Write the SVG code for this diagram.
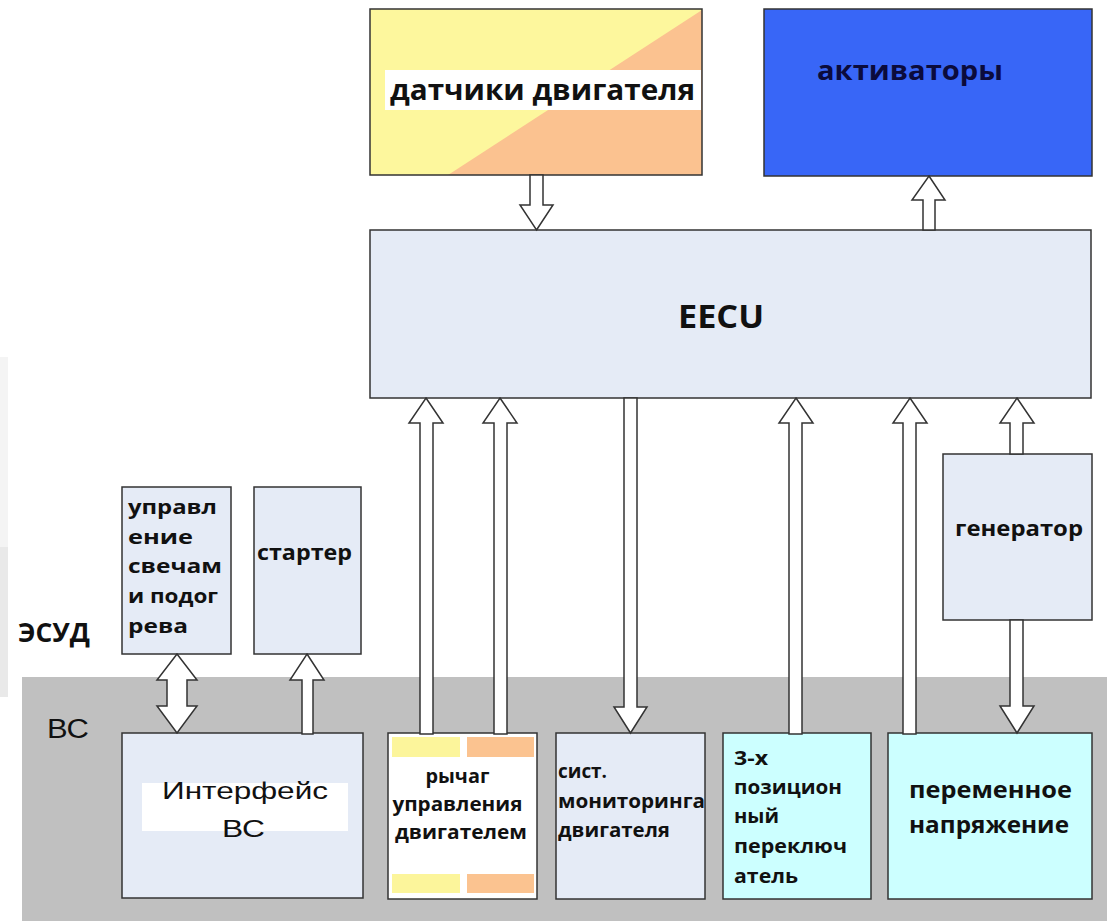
<svg xmlns="http://www.w3.org/2000/svg" width="1107" height="921" viewBox="0 0 1107 921">
<defs>
<style>
.box{stroke:#333;stroke-width:1.5}
.lb{fill:#e5ebf6}
.cy{fill:#ccffff}
.b{font-family:"Open Sans","DejaVu Sans",sans-serif;font-weight:bold;fill:#111}
.r{font-family:"Liberation Sans",Arial,sans-serif;fill:#111}
.arr{fill:#fff;stroke:#333;stroke-width:1.5;stroke-linejoin:miter}
</style>
</defs>
<rect width="1107" height="921" fill="#fff"/>
<rect x="0" y="357" width="8" height="190" fill="#f4f4f4"/>
<rect x="0" y="547" width="8" height="150" fill="#e9e9e9"/>
<rect id="bc-band" x="22" y="677" width="1085" height="244" fill="#c0c0c0"/>

<g id="sensors">
<rect x="370" y="9" width="332" height="166" fill="#fdf79d"/>
<polygon points="448,175 702,10 702,175" fill="#fbc290"/>
<rect x="370" y="9" width="332" height="166" fill="none" class="box"/>
<rect x="385" y="70" width="316" height="40" fill="#fff"/>
<text class="b" x="390" y="100" font-size="28" textLength="305" lengthAdjust="spacingAndGlyphs">датчики двигателя</text>
</g>

<g id="activators">
<rect class="box" x="764" y="9" width="328" height="167" fill="#3866f7"/>
<text class="b" x="817" y="80" font-size="26" textLength="186" lengthAdjust="spacingAndGlyphs" style="fill:#0b0b3c">активаторы</text>
</g>

<g id="eecu">
<rect class="box lb" x="370" y="230" width="721" height="168"/>
<text class="b" x="678" y="328" font-size="33" textLength="86" lengthAdjust="spacingAndGlyphs">EECU</text>
</g>

<g id="generator">
<rect class="box lb" x="943" y="454" width="149" height="166"/>
<text class="b" x="955" y="536" font-size="22" textLength="128" lengthAdjust="spacingAndGlyphs">генератор</text>
</g>

<g id="glow">
<rect class="box lb" x="122" y="487" width="109" height="167"/>
<text class="b" font-size="20">
<tspan x="128" y="514" textLength="89" lengthAdjust="spacingAndGlyphs">управл</tspan>
<tspan x="128" y="544" textLength="65" lengthAdjust="spacingAndGlyphs">ение</tspan>
<tspan x="128" y="573" textLength="94" lengthAdjust="spacingAndGlyphs">свечам</tspan>
<tspan x="128" y="603" textLength="90" lengthAdjust="spacingAndGlyphs">и подог</tspan>
<tspan x="128" y="633" textLength="60" lengthAdjust="spacingAndGlyphs">рева</tspan>
</text>
</g>

<g id="starter">
<rect class="box lb" x="254" y="487" width="107" height="167"/>
<text class="b" x="257" y="560" font-size="21" textLength="95" lengthAdjust="spacingAndGlyphs">стартер</text>
</g>

<g id="label-esud">
<text class="b" x="18" y="642" font-size="26" textLength="72" lengthAdjust="spacingAndGlyphs">ЭСУД</text>
</g>

<g id="label-bc">
<text class="r" x="47" y="738" font-size="27" textLength="42" lengthAdjust="spacingAndGlyphs">ВС</text>
</g>

<g id="interface">
<rect class="box lb" x="122" y="733" width="241" height="165"/>
<rect x="142" y="783" width="206" height="48" fill="#fff"/>
<text class="r" x="162" y="799" font-size="23" textLength="166" lengthAdjust="spacingAndGlyphs">Интерфейс</text>
<text class="r" x="222" y="837" font-size="23" textLength="43" lengthAdjust="spacingAndGlyphs">ВС</text>
</g>

<g id="lever">
<rect class="box" x="388" y="733" width="149" height="166" fill="#fff"/>
<rect x="392" y="737" width="68" height="20" fill="#fcf59b"/>
<rect x="467" y="737" width="67" height="20" fill="#fbc390"/>
<rect x="392" y="874" width="68" height="19" fill="#fcf59b"/>
<rect x="467" y="874" width="67" height="19" fill="#fbc390"/>
<text class="b" font-size="20" text-anchor="middle">
<tspan x="460" y="783" textLength="64" lengthAdjust="spacingAndGlyphs">рычаг</tspan>
<tspan x="460" y="811" textLength="130" lengthAdjust="spacingAndGlyphs">управления</tspan>
<tspan x="461" y="839" textLength="132" lengthAdjust="spacingAndGlyphs">двигателем</tspan>
</text>
</g>

<g id="monitoring">
<rect class="box lb" x="556" y="733" width="149" height="166"/>
<text class="b" font-size="20">
<tspan x="558" y="778" textLength="49" lengthAdjust="spacingAndGlyphs">сист.</tspan>
<tspan x="558" y="808" textLength="147" lengthAdjust="spacingAndGlyphs">мониторинга</tspan>
<tspan x="558" y="837" textLength="112" lengthAdjust="spacingAndGlyphs">двигателя</tspan>
</text>
</g>

<g id="switch">
<rect class="box cy" x="723" y="733" width="148" height="166"/>
<text class="b" font-size="20">
<tspan x="734" y="765" textLength="34" lengthAdjust="spacingAndGlyphs">3-х</tspan>
<tspan x="734" y="794" textLength="108" lengthAdjust="spacingAndGlyphs">позицион</tspan>
<tspan x="734" y="823" textLength="45" lengthAdjust="spacingAndGlyphs">ный</tspan>
<tspan x="734" y="853" textLength="113" lengthAdjust="spacingAndGlyphs">переключ</tspan>
<tspan x="734" y="883" textLength="64" lengthAdjust="spacingAndGlyphs">атель</tspan>
</text>
</g>

<g id="ac-voltage">
<rect class="box cy" x="888" y="733" width="204" height="166"/>
<text class="b" font-size="23">
<tspan x="909" y="798" textLength="163" lengthAdjust="spacingAndGlyphs">переменное</tspan>
<tspan x="909" y="833" textLength="160" lengthAdjust="spacingAndGlyphs">напряжение</tspan>
</text>
</g>

<g id="connectors">
<polygon class="arr" points="536.5,230 553,205 543,205 543,175 530,175 530,205 520,205"/>
<polygon class="arr" points="929,176 945,200 935,200 935,230 923,230 923,200 912,200"/>
<polygon class="arr" points="426,398 443,423 433,423 433,734 420,734 420,423 409,423"/>
<polygon class="arr" points="500,398 517,423 507,423 507,734 494,734 494,423 483,423"/>
<polygon class="arr" points="630.5,733 647,707 637,707 637,398 624,398 624,707 614,707"/>
<polygon class="arr" points="796,398 813,423 802,423 802,734 789,734 789,423 779,423"/>
<polygon class="arr" points="910,398 927,423 916,423 916,734 903,734 903,423 893,423"/>
<polygon class="arr" points="1017,398 1034,423 1023,423 1023,454 1010,454 1010,423 1000,423"/>
<polygon class="arr" points="1017,733 1034,706 1023,706 1023,620 1010,620 1010,706 1000,706"/>
<polygon class="arr" points="177,654 197,680 187,680 187,706 197,706 177,733 157,706 167,706 167,680 157,680"/>
<polygon class="arr" points="307,654 324,680 313,680 313,734 302,734 302,680 290,680"/>
</g>
</svg>
